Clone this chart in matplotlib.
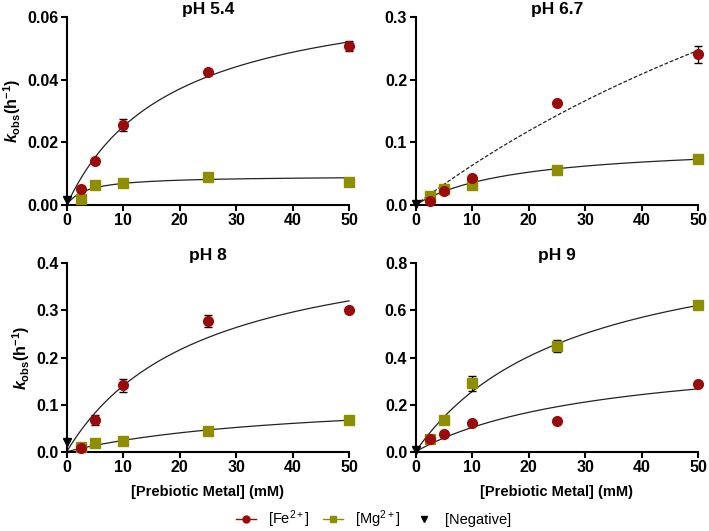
import numpy as np
import matplotlib
matplotlib.use("Agg")
import matplotlib.pyplot as plt
from matplotlib.lines import Line2D

plt.rcParams['font.family'] = ['Liberation Sans', 'DejaVu Sans']
plt.rcParams['mathtext.fontset'] = 'custom'
plt.rcParams['mathtext.rm'] = 'Liberation Sans'
plt.rcParams['mathtext.bf'] = 'Liberation Sans:bold'
plt.rcParams['mathtext.it'] = 'Liberation Sans:italic:bold'

# ---- data ----
conc = [2.5, 5, 10, 25, 50]
titles = ["pH 5.4", "pH 6.7", "pH 8", "pH 9"]

fe_54 = [0.0051, 0.0141, 0.0255, 0.0425, 0.0507]
fe_54_err = [0, 0, 0.0019, 0, 0.0016]
mg_54 = [0.0018, 0.0063, 0.0070, 0.0090, 0.0073]
mg_54_err = [0, 0, 0, 0, 0]
neg_54 = 0.0015

fe_67 = [0.0064, 0.0218, 0.0425, 0.1635, 0.2405]
fe_67_err = [0, 0, 0, 0, 0.014]
mg_67 = [0.0143, 0.025, 0.0324, 0.0558, 0.0733]
mg_67_err = [0, 0, 0, 0, 0]
neg_67 = 0.002

fe_8 = [0.0071, 0.0673, 0.141, 0.2775, 0.300]
fe_8_err = [0, 0.0099, 0.0138, 0.0124, 0]
mg_8 = [0.0099, 0.019, 0.022, 0.0446, 0.068]
mg_8_err = [0, 0, 0, 0, 0]
neg_8 = 0.02

fe_9 = [0.054, 0.075, 0.120, 0.132, 0.289]
fe_9_err = [0, 0, 0, 0, 0]
mg_9 = [0.052, 0.133, 0.290, 0.449, 0.624]
mg_9_err = [0, 0, 0.031, 0.026, 0]
neg_9 = 0.008

# hyperbolic fit parameters (Vmax, K)
fe_fit = [(0.0713, 18.5), (0.904, 133.0), (0.472, 23.7), (0.443, 33.0)]
mg_fit = [(0.0093, 3.5), (0.099, 17.8), (0.121, 40.5), (0.97, 28.0)]
fe_dashed = [False, True, False, False]

ymax = [0.06, 0.3, 0.4, 0.8]
yticks = [[0, 0.02, 0.04, 0.06], [0, 0.1, 0.2, 0.3], [0, 0.1, 0.2, 0.3, 0.4], [0, 0.2, 0.4, 0.6, 0.8]]
yfmt = ["{:.2f}", "{:.1f}", "{:.1f}", "{:.1f}"]
xticks = [0, 10, 20, 30, 40, 50]

fe_vals = [fe_54, fe_67, fe_8, fe_9]
fe_errs = [fe_54_err, fe_67_err, fe_8_err, fe_9_err]
mg_vals = [mg_54, mg_67, mg_8, mg_9]
mg_errs = [mg_54_err, mg_67_err, mg_8_err, mg_9_err]
negs = [neg_54, neg_67, neg_8, neg_9]

FE_C = '#9b0b0b'
MG_C = '#8e8e00'

W, H = 709, 531
fig = plt.figure(figsize=(W / 100, H / 100), dpi=100)

boxes = [
    (66.7, 17, 349, 205),
    (415.5, 17, 698.5, 205),
    (66.7, 263.3, 349, 451.7),
    (415.5, 263.3, 698.5, 451.7),
]

xs = np.linspace(0, 50, 300)
for i, (x0, y0, x1, y1) in enumerate(boxes):
    ax = fig.add_axes([x0 / W, 1 - y1 / H, (x1 - x0) / W, (y1 - y0) / H])
    ax.set_xlim(0, 50)
    ax.set_ylim(0, ymax[i])
    for s in ['top', 'right']:
        ax.spines[s].set_visible(False)
    for s in ['left', 'bottom']:
        ax.spines[s].set_linewidth(1.5)
    ax.tick_params(direction='out', width=1.5, length=4, labelsize=11.5, pad=2)
    ax.set_xticks(xticks)
    ax.set_xticklabels([str(t) for t in xticks], fontweight='bold')
    ax.set_yticks(yticks[i])
    ax.set_yticklabels([yfmt[i].format(t) for t in yticks[i]], fontweight='bold')

    v, k = fe_fit[i]
    ax.plot(xs, v * xs / (k + xs), color='#222222', lw=0.9,
            ls=(0, (3, 1.5)) if fe_dashed[i] else '-', clip_on=False, zorder=2)
    v, k = mg_fit[i]
    ax.plot(xs, v * xs / (k + xs), color='#222222', lw=0.9, clip_on=False, zorder=2)

    ax.errorbar(conc, mg_vals[i], yerr=[e if e > 0 else np.nan for e in mg_errs[i]],
                fmt='s', color=MG_C, ms=7, ecolor='black', elinewidth=1,
                capsize=3, capthick=1, clip_on=False, zorder=3)
    ax.errorbar(conc, fe_vals[i], yerr=[e if e > 0 else np.nan for e in fe_errs[i]],
                fmt='o', color=FE_C, ms=7, ecolor='black', elinewidth=1,
                capsize=3, capthick=1, clip_on=False, zorder=4)
    ax.plot([0], [negs[i]], marker='v', color='black', ms=6, ls='none',
            clip_on=False, zorder=5)

    ax.set_title(titles[i], fontsize=12.5, fontweight='bold', pad=2)
    if i in (0, 2):
        ax.set_ylabel(r'$\mathit{k}_{\mathbf{obs}}\mathbf{(h^{-1})}$', fontsize=11.5, labelpad=3)
    if i in (2, 3):
        ax.set_xlabel('[Prebiotic Metal] (mM)', fontsize=10.5, fontweight='bold', labelpad=7)

handles = [
    Line2D([], [], color=FE_C, marker='o', ms=5, lw=1, markerfacecolor=FE_C),
    Line2D([], [], color=MG_C, marker='s', ms=5, lw=1, markerfacecolor=MG_C),
    Line2D([], [], color='black', marker='v', ms=5, ls='none'),
]
leg = fig.legend(handles, ['[Fe$^{2+}$]', '[Mg$^{2+}$]', '[Negative]'],
                 loc='center', bbox_to_anchor=(0.527, 0.022), ncol=3, frameon=False,
                 fontsize=10.5, handlelength=1.4, columnspacing=0.9, handletextpad=0.8)

fig.savefig('out.png', dpi=100)
